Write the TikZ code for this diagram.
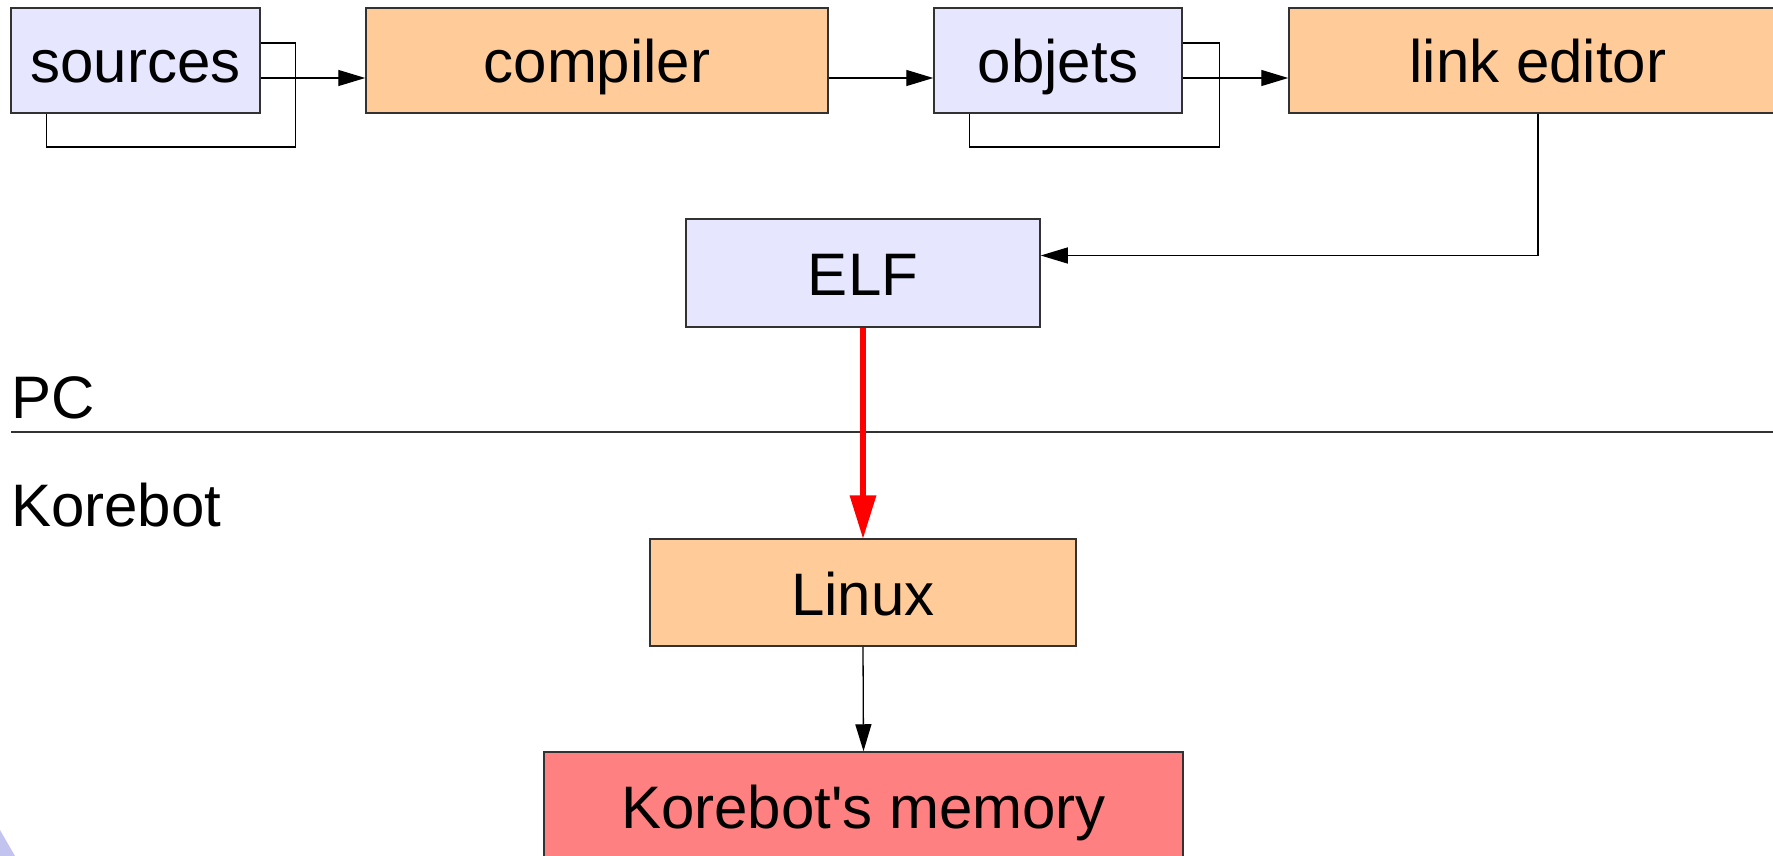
\documentclass[tikz,border=0pt]{standalone}
\usepackage{fontspec}
\setmainfont{Liberation Sans}
\usetikzlibrary{arrows.meta,calc}
\definecolor{boxblue}{RGB}{230,230,255}
\definecolor{boxorange}{RGB}{255,204,153}
\definecolor{boxred}{RGB}{255,128,128}
\definecolor{edge}{RGB}{50,50,50}
\definecolor{logo}{RGB}{195,195,240}
\begin{document}
\begin{tikzpicture}[x=1pt,y=-1pt,
  box/.style={draw=edge, line width=1.5pt, inner sep=0pt, minimum height=105pt,
    font=\fontsize{60}{64}\selectfont, text height=56pt, text depth=11pt},
  bluebox/.style={box, fill=boxblue},
  orangebox/.style={box, fill=boxorange},
  redbox/.style={box, fill=boxred},
  conn/.style={line width=1.3pt, draw=black},
  arr/.style={conn, -{Triangle[length=27pt,width=16pt]}},
  bigarr/.style={line width=6.5pt, draw=red, -{Triangle[length=44pt,width=25pt]}, shorten >=-1pt},
  lbl/.style={anchor=base west, inner sep=0pt, font=\fontsize{60}{64}\selectfont}]
\useasboundingbox (0,0) rectangle (1773,856);
\begin{scope}
\clip (0,0) rectangle (1773,856);
\fill[logo] (0,830) -- (15,856) -- (0,856) -- cycle;

\node[bluebox, minimum width=249pt] (src) at (135.5,60.5) {sources};
\node[orangebox, minimum width=462pt] (comp) at (597,60.5) {compiler};
\node[bluebox, minimum width=248pt] (obj) at (1058,60.5) {objets};
\node[orangebox, minimum width=498pt] (link) at (1538,60.5) {link editor};
\node[bluebox, minimum width=354pt, minimum height=108pt] (elf) at (863,273) {ELF};
\node[orangebox, minimum width=426pt, minimum height=107pt] (linux) at (863,592.5) {Linux};
\node[redbox, minimum width=639pt, minimum height=107pt] (mem) at (863.5,805.5) {Korebot\textquotesingle s memory};

\node[lbl] (pc) at (11,418) {PC};
\node[lbl] (kb) at (11,526) {Korebot};
\coordinate (sepL) at (11,432);
\coordinate (sepR) at (1775,432);
\draw[line width=1.2pt, draw=edge] (sepL) -- (sepR);

% feedback loops
\draw[conn] ($(src.east)+(0,-17.5)$) -| ($(src.east)+(35,86.5)$) -| ($(src.south west)+(36,0)$);
\draw[conn] ($(obj.east)+(0,-17.5)$) -| ($(obj.east)+(37,86.5)$) -| ($(obj.south west)+(36,0)$);

% flow arrows
\draw[arr] ($(src.east)+(0,17.5)$) -- ($(comp.west)+(0,17.5)$);
\draw[arr] ($(comp.east)+(0,17.5)$) -- ($(obj.west)+(0,17.5)$);
\draw[arr] ($(obj.east)+(0,17.5)$) -- ($(link.west)+(0,17.5)$);
\draw[arr] (link.south) |- ($(elf.east)+(0,-17.5)$);
\draw[bigarr] (elf.south) -- (linux.north);
\draw[arr] (linux.south) -- (mem.north);
\end{scope}
\end{tikzpicture}
\end{document}
